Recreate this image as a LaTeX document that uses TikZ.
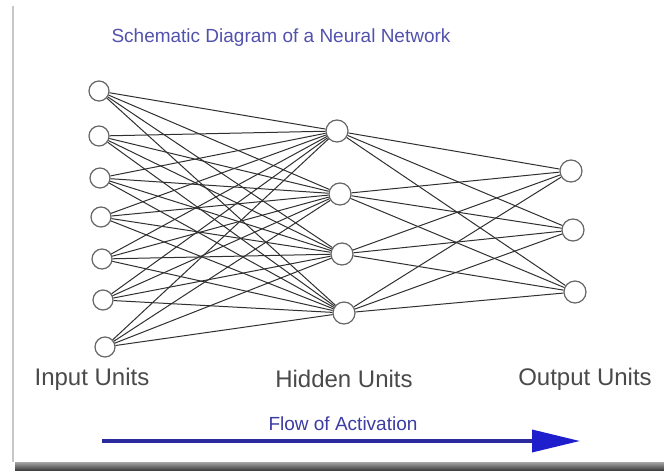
\documentclass[tikz,border=0pt]{standalone}
\usepackage{fontspec}
\setmainfont{Liberation Sans}
\usetikzlibrary{arrows.meta}

\definecolor{titleblue}{HTML}{5252AE}
\definecolor{flowblue}{HTML}{3C3CA4}
\definecolor{arrowblue}{HTML}{2A2A9C}
\definecolor{headblue}{HTML}{1E1ECC}
\definecolor{labelgray}{HTML}{4A4A4A}
\definecolor{wiregray}{HTML}{303030}

\begin{document}
\begin{tikzpicture}[x=1pt,y=-1pt,
  unit/.style={circle, draw=black!60, line width=1.2pt, fill=white, inner sep=0pt},
  inunit/.style={unit, minimum size=20pt},
  bigunit/.style={unit, minimum size=22pt},
  wire/.style={draw=wiregray, line width=1pt},
  layerlabel/.style={text=labelgray, font=\fontsize{24}{28}\selectfont, inner sep=0pt},
  heading/.style={text=titleblue, font=\fontsize{19}{22}\selectfont, inner sep=0pt},
  flowlabel/.style={text=flowblue, font=\fontsize{19}{22}\selectfont, inner sep=0pt}]

  % page frame
  \useasboundingbox (0,0) rectangle (664,471);
  \fill[white] (0,0) rectangle (664,471);
  \draw[black!22, line width=2.5pt] (13,6) -- (13,462);
  \shade[top color=black!35, bottom color=black!80] (15,462) rectangle (664,471);

  % title
  \node[heading] (title) at (281,38) {Schematic Diagram of a Neural Network};

  % input layer
  \foreach \i/\x/\y in {0/99/91, 1/99/136, 2/100/178, 3/101/217, 4/102/259, 5/103/300, 6/105/347}
    \node[inunit] (in\i) at (\x,\y) {};

  % hidden layer
  \foreach \j/\x/\y in {0/337/131, 1/340/194, 2/342/254, 3/344/313}
    \node[bigunit] (hid\j) at (\x,\y) {};

  % output layer
  \foreach \k/\x/\y in {0/571/171, 1/573/230, 2/575/292}
    \node[bigunit] (out\k) at (\x,\y) {};

  % fully connected weights, unit border to unit border
  \foreach \i in {0,...,6}
    \foreach \j in {0,...,3}
      \path[wire] (in\i) -- (hid\j);
  \foreach \j in {0,...,3}
    \foreach \k in {0,...,2}
      \path[wire] (hid\j) -- (out\k);

  % layer labels
  \node[layerlabel] (lin)  at (92,379)  {Input Units};
  \node[layerlabel] (lhid) at (344,379) {Hidden Units};
  \node[layerlabel] (lout) at (585,379) {Output Units};

  % direction of activation
  \node[flowlabel] (flow) at (343,424) {Flow of Activation};
  \coordinate (flowstart) at (102,441);
  \coordinate (flowend) at (580,441);
  \draw[arrowblue, line width=3.5pt,
        -{Triangle[length=48pt,width=22pt,color=headblue]}] (flowstart) -- (flowend);
\end{tikzpicture}
\end{document}
